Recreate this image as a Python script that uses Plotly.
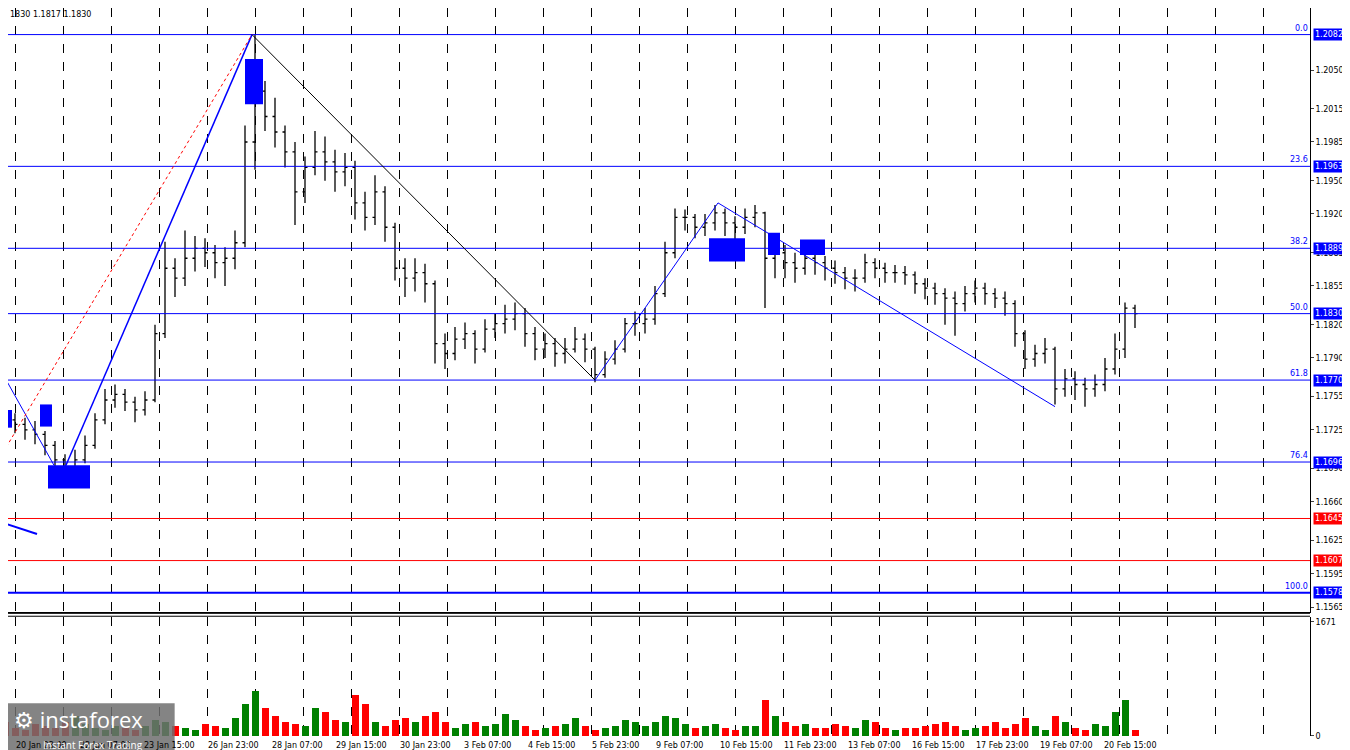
import plotly.graph_objects as go

# EURUSD, 5-hour bars (x = hour index from chart start)
bar_hours = [2.5 + 5 * i for i in range(114)]
close = [1.1734, 1.1730, 1.1725, 1.1721, 1.1711, 1.1698, 1.1691, 1.1698, 1.1711, 1.1734,
         1.1752, 1.1757, 1.1750, 1.1743, 1.1752, 1.1812, 1.1871, 1.1862, 1.1880, 1.1889,
         1.1885, 1.1876, 1.1880, 1.1894, 1.1985, 1.2031, 1.2008, 1.1994, 1.1976, 1.1940,
         1.1962, 1.1976, 1.1967, 1.1958, 1.1962, 1.1930, 1.1917, 1.1940, 1.1908, 1.1871,
         1.1862, 1.1867, 1.1857, 1.1803, 1.1794, 1.1807, 1.1812, 1.1798, 1.1816, 1.1821,
         1.1825, 1.1830, 1.1812, 1.1798, 1.1803, 1.1794, 1.1798, 1.1807, 1.1798, 1.1775,
         1.1789, 1.1798, 1.1821, 1.1821, 1.1825, 1.1848, 1.1885, 1.1917, 1.1917, 1.1908,
         1.1912, 1.1921, 1.1912, 1.1908, 1.1917, 1.1921, 1.1880, 1.1885, 1.1876, 1.1871,
         1.1880, 1.1876, 1.1871, 1.1867, 1.1862, 1.1862, 1.1876, 1.1871, 1.1867, 1.1867,
         1.1865, 1.1857, 1.1853, 1.1848, 1.1844, 1.1839, 1.1848, 1.1853, 1.1848, 1.1844,
         1.1839, 1.1812, 1.1789, 1.1794, 1.1798, 1.1762, 1.1771, 1.1766, 1.1762, 1.1766,
         1.1780, 1.1798, 1.1835, 1.1830]
high = [1.1745, 1.1740, 1.1736, 1.1733, 1.1724, 1.1715, 1.1703, 1.1707, 1.1720, 1.1740,
        1.1762, 1.1766, 1.1762, 1.1755, 1.1760, 1.1820, 1.1895, 1.1880, 1.1905, 1.1900,
        1.1898, 1.1892, 1.1890, 1.1905, 1.2000, 1.2082, 1.2040, 1.2025, 1.2000, 1.1985,
        1.1972, 1.1995, 1.1990, 1.1978, 1.1975, 1.1968, 1.1940, 1.1955, 1.1945, 1.1912,
        1.1880, 1.1880, 1.1875, 1.1860, 1.1812, 1.1818, 1.1822, 1.1815, 1.1825, 1.1830,
        1.1838, 1.1840, 1.1835, 1.1818, 1.1812, 1.1808, 1.1808, 1.1818, 1.1812, 1.1800,
        1.1796, 1.1806, 1.1826, 1.1832, 1.1835, 1.1855, 1.1895, 1.1925, 1.1924, 1.1920,
        1.1920, 1.1928, 1.1925, 1.1918, 1.1925, 1.1928, 1.1922, 1.1895, 1.1892, 1.1885,
        1.1888, 1.1886, 1.1882, 1.1878, 1.1872, 1.1870, 1.1884, 1.1880, 1.1876, 1.1874,
        1.1873, 1.1868, 1.1862, 1.1858, 1.1853, 1.1850, 1.1855, 1.1860, 1.1858, 1.1853,
        1.1850, 1.1842, 1.1815, 1.1802, 1.1808, 1.1800, 1.1780, 1.1778, 1.1772, 1.1775,
        1.1790, 1.1812, 1.1840, 1.1838]
low = [1.1726, 1.1722, 1.1716, 1.1712, 1.1702, 1.1690, 1.1685, 1.1686, 1.1695, 1.1708,
       1.1730, 1.1745, 1.1742, 1.1732, 1.1738, 1.1750, 1.1808, 1.1845, 1.1855, 1.1868,
       1.1872, 1.1862, 1.1855, 1.1870, 1.1890, 1.1960, 1.1995, 1.1980, 1.1962, 1.1910,
       1.1930, 1.1955, 1.1950, 1.1940, 1.1945, 1.1915, 1.1905, 1.1910, 1.1895, 1.1860,
       1.1845, 1.1850, 1.1840, 1.1785, 1.1780, 1.1788, 1.1798, 1.1785, 1.1795, 1.1808,
       1.1812, 1.1815, 1.1800, 1.1788, 1.1790, 1.1782, 1.1785, 1.1795, 1.1786, 1.1768,
       1.1772, 1.1784, 1.1795, 1.1810, 1.1812, 1.1820, 1.1845, 1.1880, 1.1905, 1.1898,
       1.1900, 1.1905, 1.1900, 1.1895, 1.1902, 1.1908, 1.1835, 1.1862, 1.1862, 1.1858,
       1.1865, 1.1865, 1.1860, 1.1857, 1.1852, 1.1850, 1.1858, 1.1862, 1.1858, 1.1858,
       1.1856, 1.1848, 1.1843, 1.1838, 1.1820, 1.1810, 1.1832, 1.1840, 1.1838, 1.1835,
       1.1828, 1.1800, 1.1780, 1.1782, 1.1785, 1.1748, 1.1755, 1.1752, 1.1746, 1.1755,
       1.1760, 1.1775, 1.1790, 1.1817]
first_open = 1.1738
volume = [210, 120, 90, 180, 150, 120, 210, 300, 180, 120,
          90, 150, 120, 90, 150, 240, 210, 150, 120, 90,
          180, 150, 120, 270, 480, 660, 420, 300, 210, 180,
          150, 420, 360, 240, 210, 600, 480, 210, 150, 240,
          270, 210, 300, 360, 210, 120, 180, 210, 150, 180,
          330, 240, 150, 90, 120, 150, 180, 270, 150, 90,
          120, 150, 240, 210, 150, 210, 300, 270, 180, 120,
          150, 180, 120, 90, 150, 150, 540, 300, 210, 150,
          180, 120, 120, 180, 150, 120, 240, 210, 120, 90,
          120, 120, 150, 180, 210, 150, 90, 120, 150, 210,
          120, 180, 270, 150, 90, 300, 210, 120, 90, 180,
          150, 360, 540, 90]

time_labels = ["20 Jan 23:00", "22 Jan 07:00", "23 Jan 15:00", "26 Jan 23:00", "28 Jan 07:00",
               "29 Jan 15:00", "30 Jan 23:00", "3 Feb 07:00", "4 Feb 15:00", "5 Feb 23:00",
               "9 Feb 07:00", "10 Feb 15:00", "11 Feb 23:00", "13 Feb 07:00", "16 Feb 15:00",
               "17 Feb 23:00", "19 Feb 07:00", "20 Feb 15:00"]
time_label_hours = [7, 39, 71, 103, 135, 167, 199, 231, 263, 295, 327, 359, 391, 423, 455, 487, 519, 551]

fib_pct = ["0.0", "23.6", "38.2", "50.0", "61.8", "76.4", "100.0"]
fib_levels = [1.2082, 1.1963, 1.1889, 1.1830, 1.1770, 1.1696, 1.1578]
red_levels = [1.1645, 1.1607]
price_ticks = [1.2050, 1.2015, 1.1985, 1.1950, 1.1920, 1.1885, 1.1855, 1.1820, 1.1790,
               1.1755, 1.1725, 1.1690, 1.1660, 1.1625, 1.1595, 1.1565]

# blue zones (hour0, hour1, price0, price1)
zones = [(0, 6, 1.1743, 1.1727), (20, 26, 1.1748, 1.1728), (24, 45, 1.1693, 1.1672),
         (122.5, 131.5, 1.2060, 1.2019), (354.5, 372.5, 1.1898, 1.1877),
         (384, 390, 1.1903, 1.1883), (400, 412.5, 1.1897, 1.1883)]
# drawn trend lines (hour0, price0, hour1, price1, colour, width, dash)
trend_lines = [(32.5, 1.1691, 126, 1.2082, "blue", 1.5, "solid"),
               (126, 1.2082, 297.5, 1.1770, "black", 1, "solid"),
               (297.5, 1.1770, 359, 1.1930, "blue", 1, "solid"),
               (359, 1.1930, 527.5, 1.1746, "blue", 1, "solid"),
               (0, 1.1780, 27, 1.1693, "blue", 1, "solid"),
               (0, 1.1700, 126, 1.2082, "red", 1, "dot"),
               (0, 1.1642, 18.5, 1.1631, "blue", 2, "solid")]

opens = [first_open] + close[:-1]
vol_colors = ["green" if c >= o else "red" for o, c in zip(opens, close)]

fig = go.Figure()
fig.add_trace(go.Ohlc(x=bar_hours, open=opens, high=high, low=low, close=close,
                      increasing_line_color="black", decreasing_line_color="black",
                      line_width=1.3, tickwidth=0.25, yaxis="y", xaxis="x", showlegend=False))
fig.add_trace(go.Bar(x=bar_hours, y=volume, marker_color=vol_colors, marker_line_width=0,
                     width=3.5, yaxis="y2", xaxis="x", showlegend=False))

shapes = []
for lvl in fib_levels:
    shapes.append(dict(type="line", xref="paper", x0=0, x1=1, yref="y", y0=lvl, y1=lvl,
                       line=dict(color="blue", width=2 if lvl == 1.1578 else 1)))
for lvl in red_levels:
    shapes.append(dict(type="line", xref="paper", x0=0, x1=1, yref="y", y0=lvl, y1=lvl,
                       line=dict(color="red", width=1)))
for h0, h1, p0, p1 in zones:
    shapes.append(dict(type="rect", xref="x", yref="y", x0=h0, x1=h1, y0=p0, y1=p1,
                       fillcolor="blue", line_width=0, layer="above"))
for h0, p0, h1, p1, col, w, d in trend_lines:
    shapes.append(dict(type="line", xref="x", yref="y", x0=h0, y0=p0, x1=h1, y1=p1,
                       line=dict(color=col, width=w, dash=d)))
# panel separator
for yy in [0.1685, 0.1645]:
    shapes.append(dict(type="line", xref="paper", yref="paper", x0=0, x1=1, y0=yy, y1=yy,
                       line=dict(color="black", width=1)))

ann = []
font = "DejaVu Sans"
for pct, lvl in zip(fib_pct, fib_levels):
    ann.append(dict(x=1, xref="paper", xanchor="right", y=lvl, yref="y", yanchor="bottom",
                    text=pct, showarrow=False, font=dict(family=font, size=8, color="blue")))
    ann.append(dict(x=1.002, xref="paper", xanchor="left", y=lvl, yref="y", text=f"{lvl:.4f}",
                    showarrow=False, bgcolor="blue", font=dict(family=font, size=8, color="white"),
                    borderpad=1))
for lvl in red_levels:
    ann.append(dict(x=1.002, xref="paper", xanchor="left", y=lvl, yref="y", text=f"{lvl:.4f}",
                    showarrow=False, bgcolor="red", font=dict(family=font, size=8, color="white"),
                    borderpad=1))
for lab, h in zip(time_labels, time_label_hours):
    ann.append(dict(x=h, xref="x", xanchor="left", y=-0.004, yref="paper", yanchor="top",
                    text=lab, showarrow=False, font=dict(family=font, size=8, color="black")))
ann.append(dict(x=0, xref="paper", xanchor="left", y=1.0, yref="paper", yanchor="top",
                text="1830 1.1817 1.1830", showarrow=False,
                font=dict(family=font, size=8, color="black")))
# watermark
shapes.append(dict(type="rect", xref="paper", yref="paper", x0=0, x1=0.128, y0=-0.035, y1=0.045,
                   fillcolor="rgba(110,110,110,0.85)", line_width=0, layer="above"))
ann.append(dict(x=0.003, xref="paper", xanchor="left", y=0.047, yref="paper", yanchor="top",
                text="⚙ instaforex", showarrow=False,
                font=dict(family="Open Sans", size=22, color="white")))
ann.append(dict(x=0.025, xref="paper", xanchor="left", y=0.0, yref="paper", yanchor="top",
                text="Instant Forex Trading", showarrow=False,
                font=dict(family="Open Sans", size=10, color="white")))

# page body adds an 8px offset, so the figure is drawn slightly smaller
fig.update_layout(
    width=1342, height=742, paper_bgcolor="white", plot_bgcolor="white",
    margin=dict(l=0, r=40, t=0, b=14),
    xaxis=dict(range=[4, 655], showticklabels=False, tick0=7.5, dtick=24,
               showgrid=True, gridcolor="black", griddash="dash", gridwidth=1,
               zeroline=False, showline=True, linecolor="black", mirror=True,
               rangeslider=dict(visible=False)),
    yaxis=dict(domain=[0.171, 1], range=[1.1561, 1.2106], side="right", tickvals=price_ticks,
               ticktext=[f"{v:.4f}" for v in price_ticks], ticks="outside", ticklen=3,
               tickfont=dict(family=font, size=8, color="black"), showgrid=False,
               zeroline=False, showline=True, linecolor="black", mirror=True),
    yaxis2=dict(domain=[0, 0.164], range=[0, 1750], side="right", tickvals=[0, 1671],
                ticks="outside", ticklen=3, tickfont=dict(family=font, size=8, color="black"),
                showgrid=False, zeroline=False, showline=True, linecolor="black", mirror=True,
                anchor="x"),
    bargap=0, shapes=shapes, annotations=ann,
)
fig.write_html("out.html")
